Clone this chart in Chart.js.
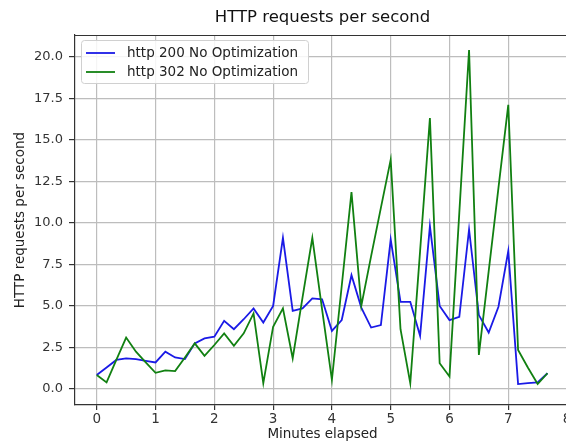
<!DOCTYPE html>
<html><head><meta charset="utf-8">
<script src="https://cdn.jsdelivr.net/npm/chart.js@4"></script>
<style>
html,body{margin:0;padding:0;overflow:hidden;background:#fff;width:566px;height:443px}
#wrap{width:600px;height:443px;position:relative}
</style>
</head><body>
<div id="wrap"><canvas id="c" width="600" height="443"></canvas></div>
<script>
const chartTitle = 'HTTP requests per second';
const xAxisTitle = 'Minutes elapsed';
const yAxisTitle = 'HTTP requests per second';
const seriesNames = ['http 200 No Optimization', 'http 302 No Optimization'];

const minutes = [0, 0.167, 0.333, 0.5, 0.667, 0.833, 1.0, 1.167, 1.333, 1.5,
  1.667, 1.833, 2.0, 2.167, 2.333, 2.5, 2.667, 2.833, 3.0, 3.167,
  3.333, 3.5, 3.667, 3.833, 4.0, 4.167, 4.333, 4.5, 4.667, 4.833,
  5.0, 5.167, 5.333, 5.5, 5.667, 5.833, 6.0, 6.167, 6.333, 6.5,
  6.667, 6.833, 7.0, 7.167, 7.333, 7.5, 7.667];

const http200 = [0.85, 1.3, 1.75, 1.85, 1.8, 1.7, 1.6, 2.25, 1.9, 1.8,
  2.75, 3.05, 3.15, 4.1, 3.6, 4.2, 4.85, 4.0, 5.0, 9.1,
  4.7, 4.85, 5.45, 5.4, 3.5, 4.15, 6.85, 4.9, 3.7, 3.85,
  9.0, 5.25, 5.25, 3.2, 9.8, 5.0, 4.15, 4.35, 9.6, 4.45,
  3.4, 4.95, 8.3, 0.3, 0.35, 0.4, 0.95];

const http302 = [0.85, 0.4, 1.75, 3.1, 2.25, 1.6, 0.98, 1.12, 1.08, 1.9,
  2.75, 2.0, 2.65, 3.35, 2.6, 3.35, 4.55, 0.35, 3.75, 4.85,
  1.85, 5.5, 9.1, 4.8, 0.55, 6.2, 11.85, 5.0, 8.0, 10.9,
  13.8, 3.6, 0.35, 8.3, 16.3, 1.55, 0.75, 10.6, 20.4, 2.05,
  7.1, 12.1, 17.1, 2.35, 1.3, 0.3, 0.95];

const xTicks = [0, 1, 2, 3, 4, 5, 6, 7, 8];
const yTicks = [0, 2.5, 5, 7.5, 10, 12.5, 15, 17.5, 20];

const FONT = 'DejaVu Sans';

const framePlugin = {
  id: 'frame',
  afterDraw(chart) {
    const {ctx, chartArea: a} = chart;
    ctx.save();
    // top spine
    ctx.strokeStyle = '#333';
    ctx.lineWidth = 1.2;
    ctx.beginPath();
    ctx.moveTo(a.left, a.top + 0.5);
    ctx.lineTo(a.right, a.top + 0.5);
    ctx.stroke();
    // title
    ctx.fillStyle = '#111';
    ctx.font = '16.5px "' + FONT + '"';
    ctx.textAlign = 'center';
    ctx.textBaseline = 'middle';
    ctx.fillText(chartTitle, (a.left + a.right) / 2, 18);
    // legend
    const bx = 81, by = 40, bw = 227, bh = 43;
    ctx.fillStyle = 'rgba(255,255,255,0.85)';
    ctx.strokeStyle = '#d0d0d0';
    ctx.lineWidth = 1;
    ctx.beginPath();
    ctx.roundRect(bx + 0.5, by + 0.5, bw, bh, 3);
    ctx.fill();
    ctx.stroke();
    ctx.font = '13.5px "' + FONT + '"';
    ctx.textAlign = 'left';
    chart.data.datasets.forEach((ds, i) => {
      const y = 53 + i * 19;
      ctx.strokeStyle = ds.borderColor;
      ctx.lineWidth = 1.8;
      ctx.beginPath();
      ctx.moveTo(86, y);
      ctx.lineTo(115, y);
      ctx.stroke();
      ctx.fillStyle = '#222';
      ctx.fillText(ds.label, 127, y + 0.5);
    });
    ctx.restore();
  }
};

new Chart(document.getElementById('c'), {
  type: 'line',
  data: {
    datasets: [
      {
        label: seriesNames[0],
        data: minutes.map((t, i) => ({x: t, y: http200[i]})),
        borderColor: '#1a1ae6',
        borderWidth: 1.8,
        pointRadius: 0,
        tension: 0,
        order: 2
      },
      {
        label: seriesNames[1],
        data: minutes.map((t, i) => ({x: t, y: http302[i]})),
        borderColor: '#118011',
        borderWidth: 1.8,
        pointRadius: 0,
        tension: 0,
        order: 1
      }
    ]
  },
  options: {
    responsive: false,
    animation: false,
    layout: {padding: {top: 35, right: 30, left: 0, bottom: 0}},
    plugins: {legend: {display: false}, tooltip: {enabled: false}, title: {display: false}},
    scales: {
      x: {
        type: 'linear',
        min: -0.37,
        max: 8.05,
        afterBuildTicks: s => { s.ticks = xTicks.map(v => ({value: v})); },
        afterFit: s => { s.height = 38; },
        grid: {color: '#bdbdbd', lineWidth: 1.2, tickColor: '#333', tickLength: 5},
        border: {display: true, color: '#333', width: 1.2},
        ticks: {color: '#333', font: {family: FONT, size: 13.5}, padding: 1, maxRotation: 0,
          callback: v => String(v)},
        title: {display: true, text: xAxisTitle, color: '#222',
          font: {family: FONT, size: 13.5}, padding: {top: 0, bottom: 0}}
      },
      y: {
        type: 'linear',
        min: -0.96,
        max: 21.3,
        afterBuildTicks: s => { s.ticks = yTicks.map(v => ({value: v})); },
        afterFit: s => { s.width = 75; },
        grid: {color: '#bdbdbd', lineWidth: 1.2, tickColor: '#333', tickLength: 6},
        border: {display: true, color: '#333', width: 1.2},
        ticks: {color: '#333', font: {family: FONT, size: 13}, padding: 6,
          callback: v => Number(v).toFixed(1)},
        title: {display: true, text: yAxisTitle, color: '#222',
          font: {family: FONT, size: 13.5}, padding: {top: 12, bottom: 0}}
      }
    }
  },
  plugins: [framePlugin]
});
</script>
</body></html>
